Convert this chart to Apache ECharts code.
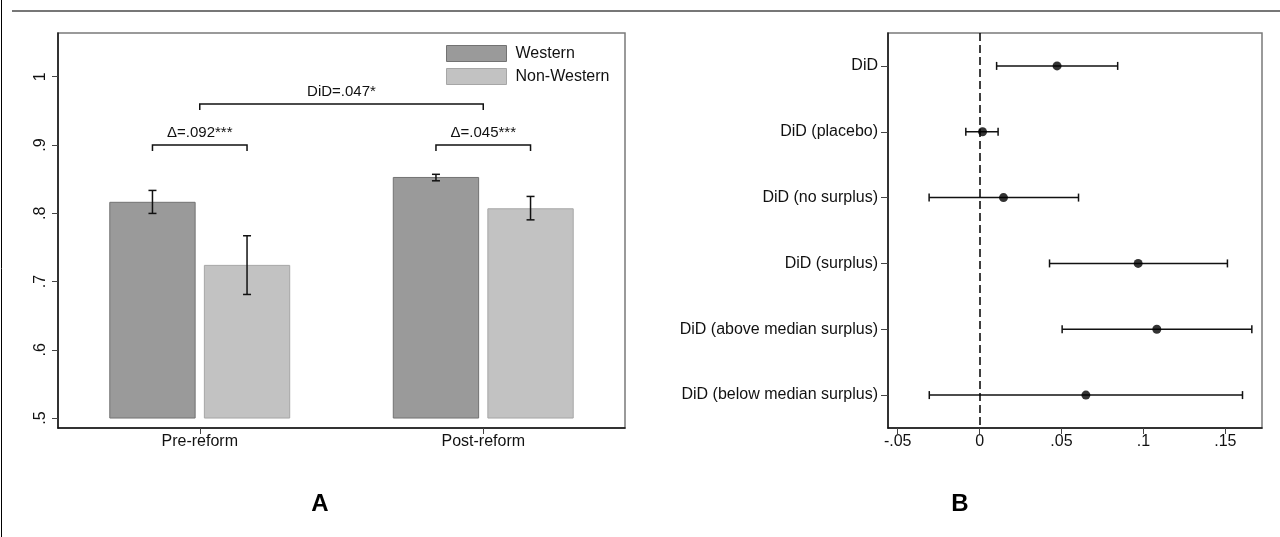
<!DOCTYPE html>
<html>
<head>
<meta charset="utf-8">
<script src="https://cdn.jsdelivr.net/npm/echarts@6/dist/echarts.min.js"></script>
<style>
html,body{margin:0;padding:0;background:#fff;}
#chart{width:1280px;height:537px;}
</style>
</head>
<body>
<div id="chart"></div>
<script>
// ---------- Panel A data ----------
const periods = ['Pre-reform', 'Post-reform'];
const groupNames = ['Western', 'Non-Western'];
const westernMean = [0.816, 0.8524];
const westernLo = [0.7997, 0.8475];
const westernHi = [0.8334, 0.857];
const nonWesternMean = [0.7236, 0.8065];
const nonWesternLo = [0.681, 0.7903];
const nonWesternHi = [0.767, 0.8246];
const barBase = 0.5;
const yTickValsA = [0.5, 0.6, 0.7, 0.8, 0.9, 1];
const yTickLabelsA = ['.5', '.6', '.7', '.8', '.9', '1'];
const bracketLabels = ['\u0394=.092***', '\u0394=.045***', 'DiD=.047*'];
const bracketLevel = [0.9, 0.9, 0.96];
// [category, side] side: -1 Western bar, 1 Non-Western bar, 0 category centre
const bracketFrom = [[0, -1], [1, -1], [0, 0]];
const bracketTo = [[0, 1], [1, 1], [1, 0]];

// ---------- Panel B data ----------
const estNames = ['DiD', 'DiD (placebo)', 'DiD (no surplus)', 'DiD (surplus)', 'DiD (above median surplus)', 'DiD (below median surplus)'];
const estPoint = [0.0473, 0.0018, 0.0146, 0.0968, 0.1082, 0.0649];
const estLo = [0.0104, -0.0084, -0.0308, 0.0427, 0.0504, -0.0307];
const estHi = [0.0843, 0.0113, 0.0604, 0.1513, 0.1662, 0.1605];
const xTickValsB = [-0.05, 0, 0.05, 0.1, 0.15];
const xTickLabelsB = ['-.05', '0', '.05', '.1', '.15'];

const FONT = 'Liberation Sans, Arial, sans-serif';
const INK = '#111';
const westStyle = {color: '#9a9a9a', borderColor: '#727272', borderWidth: 1};
const nonWestStyle = {color: '#c2c2c2', borderColor: '#a6a6a6', borderWidth: 1};

function barRender(style) {
  return function (params, api) {
    const cat = api.value(0);
    const side = api.value(4);
    const band = api.size([1, 0])[0];
    const bw = band * 0.301;
    const off = band * 0.1668 * side;
    const base = api.coord([cat, barBase]);
    const top = api.coord([cat, api.value(1)]);
    const lo = api.coord([cat, api.value(2)]);
    const hi = api.coord([cat, api.value(3)]);
    const cx = base[0] + off;
    const cap = 4;
    const ls = {stroke: INK, lineWidth: 1.5};
    return {
      type: 'group',
      children: [
        {type: 'rect', shape: {x: cx - bw / 2, y: top[1], width: bw, height: base[1] - top[1]},
         style: {fill: style.color, stroke: style.borderColor, lineWidth: 1}},
        {type: 'line', shape: {x1: cx, y1: lo[1], x2: cx, y2: hi[1]}, style: ls},
        {type: 'line', shape: {x1: cx - cap, y1: lo[1], x2: cx + cap, y2: lo[1]}, style: ls},
        {type: 'line', shape: {x1: cx - cap, y1: hi[1], x2: cx + cap, y2: hi[1]}, style: ls}
      ]
    };
  };
}

function bracketRender(params, api) {
  const i = params.dataIndex;
  const band = api.size([1, 0])[0];
  const off = band * 0.1668;
  const a = api.coord([api.value(0), api.value(4)]);
  const b = api.coord([api.value(2), api.value(4)]);
  const x1 = a[0] + off * api.value(1);
  const x2 = b[0] + off * api.value(3);
  const y = a[1];
  const ls = {stroke: INK, lineWidth: 1.5, fill: null};
  return {
    type: 'group',
    children: [
      {type: 'polyline', shape: {points: [[x1, y + 6], [x1, y], [x2, y], [x2, y + 6]]}, style: ls},
      {type: 'text', x: (x1 + x2) / 2, y: y - 5,
       style: {text: bracketLabels[i], fill: INK, font: '15px ' + FONT, align: 'center', verticalAlign: 'bottom'}}
    ]
  };
}

function ciRender(params, api) {
  const lo = api.coord([api.value(0), api.value(2)]);
  const hi = api.coord([api.value(1), api.value(2)]);
  const ls = {stroke: INK, lineWidth: 1.5};
  const cap = 4;
  return {
    type: 'group',
    children: [
      {type: 'line', shape: {x1: lo[0], y1: lo[1], x2: hi[0], y2: hi[1]}, style: ls},
      {type: 'line', shape: {x1: lo[0], y1: lo[1] - cap, x2: lo[0], y2: lo[1] + cap}, style: ls},
      {type: 'line', shape: {x1: hi[0], y1: hi[1] - cap, x2: hi[0], y2: hi[1] + cap}, style: ls}
    ]
  };
}

const chart = echarts.init(document.getElementById('chart'), null, {renderer: 'canvas'});

const option = {
  animation: false,
  backgroundColor: '#fff',
  textStyle: {fontFamily: FONT},
  grid: [
    {left: 58, top: 33, width: 567, height: 395, show: true, borderColor: '#7a7a7a', borderWidth: 1.5, containLabel: false},
    {left: 888, top: 33, width: 374, height: 395, show: true, borderColor: '#7a7a7a', borderWidth: 1.5, containLabel: false}
  ],
  xAxis: [
    {gridIndex: 0, type: 'category', data: periods, boundaryGap: true,
     axisLine: {show: true, onZero: false, lineStyle: {color: '#111', width: 1.5}},
     axisTick: {show: true, alignWithLabel: true, length: 6, lineStyle: {color: '#444'}},
     axisLabel: {color: INK, fontSize: 16, margin: 6},
     splitLine: {show: false}},
    {gridIndex: 1, type: 'value', min: -0.0559, max: 0.1724,
     axisLine: {show: true, onZero: false, lineStyle: {color: '#111', width: 1.5}},
     axisTick: {show: true, length: 6, customValues: xTickValsB, lineStyle: {color: '#444'}},
     axisLabel: {color: INK, fontSize: 16, margin: 6, customValues: xTickValsB,
       formatter: function (v) { const k = xTickValsB.findIndex(t => Math.abs(t - v) < 1e-9); return k >= 0 ? xTickLabelsB[k] : ''; }},
     splitLine: {show: false}}
  ],
  yAxis: [
    {gridIndex: 0, type: 'value', min: 0.4854, max: 1.064,
     axisLine: {show: true, onZero: false, lineStyle: {color: '#111', width: 1.5}},
     axisTick: {show: true, length: 6, customValues: yTickValsA, lineStyle: {color: '#444'}},
     axisLabel: {color: INK, fontSize: 16, margin: 9, rotate: 90, customValues: yTickValsA,
       formatter: function (v) { const k = yTickValsA.findIndex(t => Math.abs(t - v) < 1e-9); return k >= 0 ? yTickLabelsA[k] : ''; }},
     splitLine: {show: false}},
    {gridIndex: 1, type: 'category', data: estNames, inverse: true, boundaryGap: true,
     axisLine: {show: true, onZero: false, lineStyle: {color: '#111', width: 1.5}},
     axisTick: {show: true, alignWithLabel: true, length: 7, lineStyle: {color: '#444'}},
     axisLabel: {color: INK, fontSize: 16, margin: 10},
     splitLine: {show: false}}
  ],
  legend: {
    orient: 'vertical', left: 446, top: 45, padding: 0, itemGap: 6,
    itemWidth: 60, itemHeight: 16,
    textStyle: {fontSize: 16, color: INK, padding: [0, 0, 0, 4]},
    data: [
      {name: groupNames[0], icon: 'rect', itemStyle: westStyle},
      {name: groupNames[1], icon: 'rect', itemStyle: nonWestStyle}
    ],
    selectedMode: false
  },
  series: [
    {name: groupNames[0], type: 'custom', xAxisIndex: 0, yAxisIndex: 0, itemStyle: westStyle,
     renderItem: barRender(westStyle), encode: {x: 0, y: 1},
     data: periods.map((p, i) => [i, westernMean[i], westernLo[i], westernHi[i], -1])},
    {name: groupNames[1], type: 'custom', xAxisIndex: 0, yAxisIndex: 0, itemStyle: nonWestStyle,
     renderItem: barRender(nonWestStyle), encode: {x: 0, y: 1},
     data: periods.map((p, i) => [i, nonWesternMean[i], nonWesternLo[i], nonWesternHi[i], 1])},
    {name: 'brackets', type: 'custom', xAxisIndex: 0, yAxisIndex: 0, clip: false,
     renderItem: bracketRender, encode: {x: 0, y: 4},
     data: bracketLevel.map((lv, i) => [bracketFrom[i][0], bracketFrom[i][1], bracketTo[i][0], bracketTo[i][1], lv])},
    {name: 'ci', type: 'custom', xAxisIndex: 1, yAxisIndex: 1,
     renderItem: ciRender, encode: {x: [0, 1], y: 2},
     data: estNames.map((n, i) => [estLo[i], estHi[i], i])},
    {name: 'estimate', type: 'scatter', xAxisIndex: 1, yAxisIndex: 1, symbol: 'circle', symbolSize: 9,
     itemStyle: {color: '#000'}, z: 5,
     data: estNames.map((n, i) => [estPoint[i], i]),
     markLine: {silent: true, symbol: 'none', label: {show: false},
       lineStyle: {color: '#000', type: [8, 4], width: 1.5},
       data: [{xAxis: 0}]}}
  ],
  graphic: [
    {type: 'line', shape: {x1: 1.5, y1: 0, x2: 1.5, y2: 537}, style: {stroke: '#000', lineWidth: 1}},
    {type: 'line', shape: {x1: 12, y1: 11, x2: 1280, y2: 11}, style: {stroke: '#777', lineWidth: 2}},
    {type: 'text', x: 320, y: 504, style: {text: 'A', font: 'bold 24px ' + FONT, fill: '#000', align: 'center', verticalAlign: 'middle'}},
    {type: 'text', x: 960, y: 504, style: {text: 'B', font: 'bold 24px ' + FONT, fill: '#000', align: 'center', verticalAlign: 'middle'}}
  ]
};
chart.setOption(option);
</script>
</body>
</html>
